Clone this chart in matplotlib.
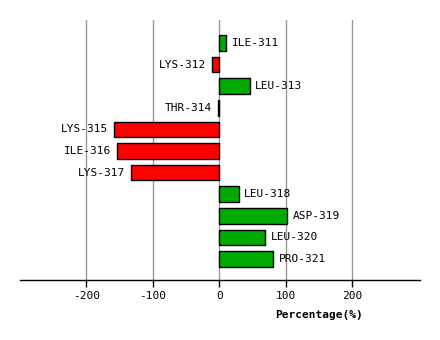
import matplotlib
matplotlib.use("Agg")
import matplotlib.pyplot as plt

residues = ["ILE-311", "LYS-312", "LEU-313", "THR-314", "LYS-315", "ILE-316",
            "LYS-317", "LEU-318", "ASP-319", "LEU-320", "PRO-321"]
values = [10, -11.5, 45.5, -2.5, -158.5, -154, -133, 29, 102.5, 68.5, 81.5]
xticks = [-200, -100, 0, 100, 200]

plt.rcParams["font.family"] = ["DejaVu Sans Mono"]

fig = plt.figure(figsize=(4.4, 3.4), dpi=100)
ax = fig.add_axes([20 / 440, 60 / 340, 400 / 440, 260 / 340])

ypos = list(range(len(residues)))
colors = ["#00aa00" if v >= 0 else "#ff0000" for v in values]

# grid lines behind the bars
for t in xticks:
    ax.axvline(t, color="#999999", lw=1, zorder=0)

ax.barh(ypos, values, height=0.72, color=colors, edgecolor="black", lw=1, zorder=2)

for y, v, name in zip(ypos, values, residues):
    if v >= 0:
        ax.annotate(name, (v, y), xytext=(4, 0), textcoords="offset points",
                    ha="left", va="center", fontsize=8)
    else:
        ax.annotate(name, (v, y), xytext=(-4, 0), textcoords="offset points",
                    ha="right", va="center", fontsize=8)

ax.set_xlim(-300, 302)
ax.set_ylim(10.97, -1.06)
ax.set_xticks(xticks)
ax.set_xticklabels([str(t) for t in xticks], fontsize=8)
ax.set_yticks([])
ax.tick_params(axis="x", length=5, width=1, pad=3, color="black")
for s in ["left", "right", "top"]:
    ax.spines[s].set_visible(False)
ax.spines["bottom"].set_linewidth(1)

ax.text(150, -0.115, "Percentage(%)", transform=ax.get_xaxis_transform(),
        fontsize=8, fontweight="bold", ha="center", va="top")

fig.savefig("out.png", dpi=100)
